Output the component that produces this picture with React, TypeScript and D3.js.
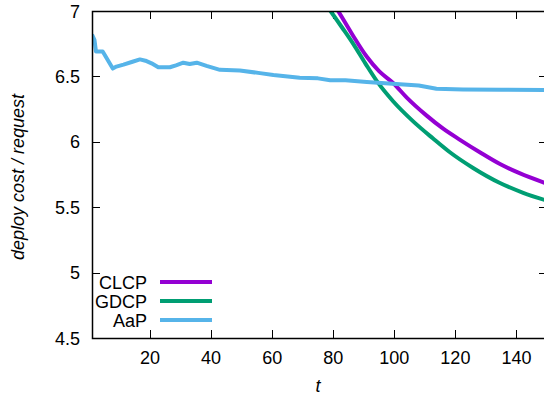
import React, { useEffect, useRef } from "react";
import * as d3 from "d3";

// t values and deploy cost per request
const clcpT = [78, 81.6, 86, 91, 95, 99.6, 104, 110.6, 116, 121.5, 128, 134.6, 141, 150];
const clcpV = [7.13, 7.0, 6.83, 6.65, 6.54, 6.45, 6.34, 6.2, 6.1, 6.015, 5.92, 5.83, 5.76, 5.68];

const gdcpT = [76, 79.1, 83, 86.5, 90.5, 94.7, 99.6, 106, 112.7, 118.2, 125.8, 134.6, 142.2, 150];
const gdcpV = [7.1, 7.0, 6.87, 6.75, 6.6, 6.45, 6.31, 6.16, 6.025, 5.92, 5.8, 5.685, 5.61, 5.55];

const aapT = [1, 1.8, 2.3, 4.5, 7.8, 9, 11.3, 14, 16.7, 18.5, 20.5, 22.7, 26.5, 28.5, 30.9, 33, 35.3, 38.5, 42.9, 49.4, 56, 60.4, 69, 75, 79, 84, 91, 101.8, 108, 113.8, 122.5, 135, 150];
const aapV = [6.82, 6.78, 6.69, 6.69, 6.56, 6.575, 6.59, 6.61, 6.63, 6.62, 6.6, 6.57, 6.57, 6.585, 6.605, 6.595, 6.605, 6.58, 6.55, 6.545, 6.525, 6.51, 6.49, 6.485, 6.47, 6.47, 6.458, 6.44, 6.43, 6.405, 6.4, 6.398, 6.395];

const xTicks = [20, 40, 60, 80, 100, 120, 140];
const yTicks = [4.5, 5, 5.5, 6, 6.5, 7];

const series = [
  { name: "CLCP", t: clcpT, v: clcpV, color: "#9400d3", smooth: true },
  { name: "GDCP", t: gdcpT, v: gdcpV, color: "#009e73", smooth: true },
  { name: "AaP", t: aapT, v: aapV, color: "#56b4e9", smooth: false },
];

const W = 544;
const H = 397;
const FONT = "'Liberation Sans', Arial, sans-serif";
const FS = "18px";

const App: React.FC = () => {
  const svgRef = useRef<SVGSVGElement | null>(null);

  useEffect(() => {
    if (!svgRef.current) return;
    const svg = d3.select(svgRef.current);
    svg.selectAll("*").remove();

    const left = 92, right = 547, top = 11, bottom = 338;
    const x = d3.scaleLinear().domain([1, 150]).range([left, right]);
    const y = d3.scaleLinear().domain([4.5, 7]).range([bottom, top]);

    svg
      .append("defs")
      .append("clipPath")
      .attr("id", "plot-clip")
      .append("rect")
      .attr("x", left)
      .attr("y", top)
      .attr("width", right - left)
      .attr("height", bottom - top);

    // --- ticks (gnuplot style, inward on all sides) ---
    const tickLen = 8;
    const g = svg.append("g").attr("stroke", "#000").attr("stroke-width", 1);
    xTicks.forEach((t) => {
      const px = Math.round(x(t)) + 0.5;
      g.append("line").attr("x1", px).attr("x2", px).attr("y1", bottom).attr("y2", bottom - tickLen);
      g.append("line").attr("x1", px).attr("x2", px).attr("y1", top).attr("y2", top + tickLen);
    });
    yTicks.forEach((v) => {
      const py = Math.round(y(v)) + 0.5;
      g.append("line").attr("x1", left).attr("x2", left + tickLen).attr("y1", py).attr("y2", py);
      g.append("line").attr("x1", right).attr("x2", right - tickLen).attr("y1", py).attr("y2", py);
    });

    // --- tick labels ---
    svg
      .append("g")
      .selectAll("text")
      .data(xTicks)
      .enter()
      .append("text")
      .attr("x", (d) => x(d))
      .attr("y", 364)
      .attr("text-anchor", "middle")
      .style("font-family", FONT)
      .style("font-size", FS)
      .text((d) => d);

    svg
      .append("g")
      .selectAll("text")
      .data(yTicks)
      .enter()
      .append("text")
      .attr("x", 80)
      .attr("y", (d) => y(d) + 6.5)
      .attr("text-anchor", "end")
      .style("font-family", FONT)
      .style("font-size", FS)
      .text((d) => d);

    // --- axis titles ---
    svg
      .append("text")
      .attr("transform", "translate(24,177) rotate(-90)")
      .attr("text-anchor", "middle")
      .style("font-family", FONT)
      .style("font-size", FS)
      .style("font-style", "italic")
      .text("deploy cost / request");

    svg
      .append("text")
      .attr("x", 318)
      .attr("y", 392)
      .attr("text-anchor", "middle")
      .style("font-family", FONT)
      .style("font-size", FS)
      .style("font-style", "italic")
      .text("t");

    // --- lines ---
    const plot = svg.append("g").attr("clip-path", "url(#plot-clip)");
    series.forEach((s) => {
      const line = d3
        .line<[number, number]>()
        .x((d) => x(d[0]))
        .y((d) => y(d[1]))
        .curve(s.smooth ? d3.curveMonotoneX : d3.curveLinear);
      plot
        .append("path")
        .attr("d", line(s.t.map((t, i) => [t, s.v[i]] as [number, number])))
        .attr("fill", "none")
        .attr("stroke", s.color)
        .attr("stroke-width", 4)
        .attr("stroke-linejoin", "round");
    });

    // --- border ---
    svg
      .append("rect")
      .attr("x", left + 0.5)
      .attr("y", top + 0.5)
      .attr("width", right - left)
      .attr("height", bottom - top)
      .attr("fill", "none")
      .attr("stroke", "#000")
      .attr("stroke-width", 1.5);

    // --- legend ---
    const legend = svg.append("g");
    series.forEach((s, i) => {
      const ly = 282 + i * 19;
      legend
        .append("text")
        .attr("x", 147)
        .attr("y", ly + 6.5)
        .attr("text-anchor", "end")
        .style("font-family", FONT)
        .style("font-size", FS)
        .text(s.name);
      legend
        .append("line")
        .attr("x1", 160)
        .attr("x2", 212)
        .attr("y1", ly)
        .attr("y2", ly)
        .attr("stroke", s.color)
        .attr("stroke-width", 4);
    });
  }, []);

  return (
    <svg
      ref={svgRef}
      width={W}
      height={H}
      style={{ position: "absolute", left: 0, top: 0, background: "#fff" }}
    ></svg>
  );
};

export default App;
